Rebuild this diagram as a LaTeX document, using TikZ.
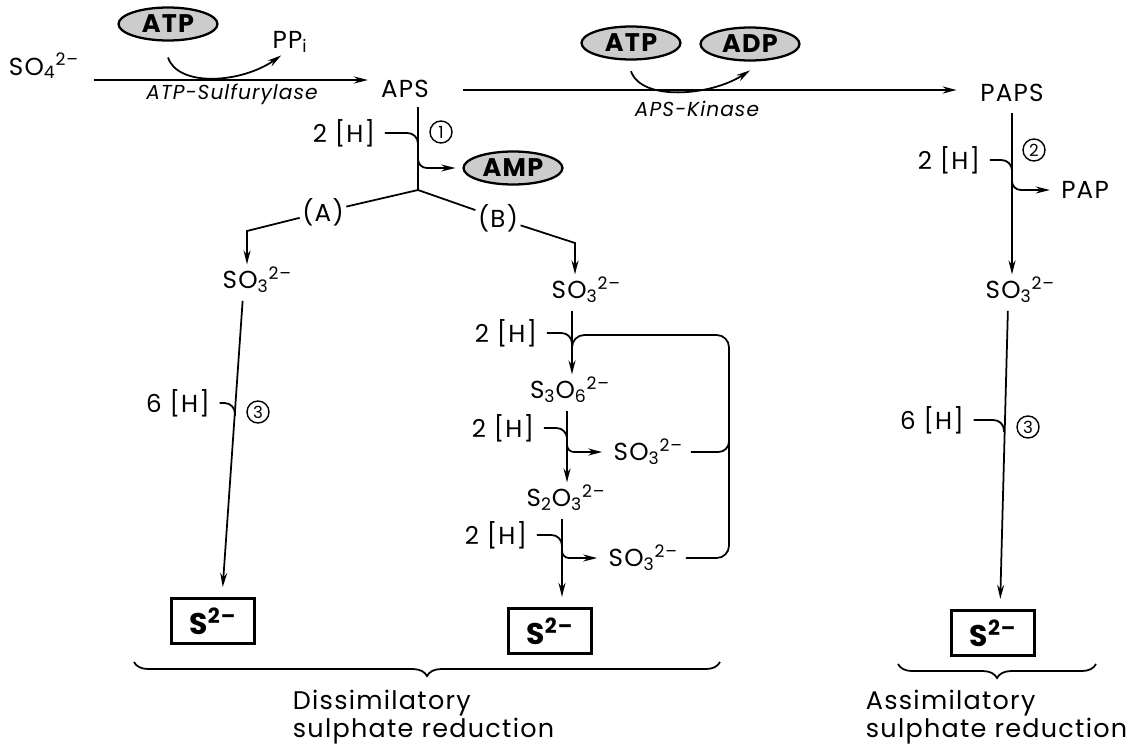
\documentclass[tikz,border=0pt]{standalone}
\usepackage{fontspec}
\setmainfont{Poppins}[LetterSpace=5]
\usetikzlibrary{arrows.meta,decorations.pathreplacing,shapes.geometric}

\tikzset{
	lbl/.style={font=\fontsize{14}{16}\selectfont, inner sep=1pt},
	enz/.style={font=\fontsize{11.5}{13}\selectfont\itshape, inner sep=1pt},
	big/.style={font=\fontsize{14.5}{14.5}\selectfont, inner sep=0pt},
	cofac/.style={ellipse, draw, line width=1.3pt, fill=gray!40, minimum width=1.98cm,
		minimum height=0.66cm, inner sep=0pt, font=\fontsize{14.5}{16}\selectfont\bfseries},
	sbox/.style={draw, line width=1.2pt, minimum width=1.66cm, minimum height=0.9cm,
		font=\fontsize{17}{18}\selectfont\bfseries},
	num/.style={circle, draw, line width=0.8pt, inner sep=0pt, minimum size=0.44cm,
		font=\fontsize{9.5}{10}\selectfont},
	arr/.style={-{Stealth[length=8pt,width=4pt]}}
}

\begin{document}
\begin{tikzpicture}[x=0.02cm, y=-0.02cm, line width=1pt]
	\useasboundingbox (0,0) rectangle (1142,747);

	% top row
	\node[lbl] (so4) at (44,66) {SO\textsubscript{4}\textsuperscript{2--}};
	\node[cofac] (atp1) at (168,24) {ATP};
	\node[lbl] (ppi) at (290,42) {PP\textsubscript{i}};
	\node[lbl] (aps) at (405,89) {APS};
	\node[enz] (sulf) at (232,94) {ATP-Sulfurylase};
	\node[cofac] (atp2) at (631,43) {ATP};
	\node[cofac] (adp) at (750,44) {ADP};
	\node[lbl] (paps) at (1012,93) {PAPS};
	\node[enz] (kin) at (697,109) {APS-Kinase};
	\coordinate (l1) at (0,80);
	\coordinate (l2) at (0,90);
	\draw[arr, shorten <=7pt, shorten >=6pt] (so4.east |- l1) -- (aps.west |- l1);
	\draw[arr] ([yshift=-9pt]atp1.south) .. controls +(10,30) and +(-40,28) .. ([xshift=-5pt]ppi.south);
	\draw[arr, shorten <=18pt, shorten >=12pt] (aps.east |- l2) -- (paps.west |- l2);
	\draw[arr] ([yshift=-6pt]atp2.south) .. controls +(10,30) and +(-40,26) .. ([yshift=-5pt]adp.south);

	% APS -> sulphite
	\coordinate (j) at (418,190);
	\draw[shorten <=4pt] (aps.south -| j) -- (j);
	\node[lbl] (h1) at (344,133) {2 [H]};
	\coordinate (m1) at (418,147);
	\draw[rounded corners=6pt, shorten <=4pt] (h1.east) -| (m1);
	\node[num] (n1) at (441,132) {1};
	\node[cofac] (amp) at (513,168) {AMP};
	\coordinate (o1) at (418,157);
	\draw[arr, rounded corners=5pt, shorten >=4pt] (o1) |- (amp.west);

	% branches (A) and (B)
	\node[lbl] (A) at (323,212) {(A)};
	\node[lbl] (B) at (498,218) {(B)};
	\coordinate (ca) at (247,231);
	\coordinate (cb) at (575,243);
	\node[lbl, anchor=west] (so3a) at (220,280) {SO\textsubscript{3}\textsuperscript{2--}};
	\node[lbl, anchor=west] (so3b) at (549,290) {SO\textsubscript{3}\textsuperscript{2--}};
	\draw (j) -- (A);
	\draw[arr] (A) -- (ca) -- (ca |- so3a.north);
	\draw (j) -- (B);
	\draw[arr] (B) -- (cb) -- (cb |- so3b.north);

	% (A) dissimilatory, direct
	\node[sbox] (s2a) at (213,621) {S\textsuperscript{2--}};
	\coordinate (a1) at (243,0);
	\coordinate (a2) at (222,0);
	\draw[arr, shorten <=3pt, shorten >=6pt] (so3a.south -| a1) -- (s2a.north -| a2);
	\node[lbl] (h5) at (178,403) {6 [H]};
	\coordinate (m5) at (235,416);
	\draw[rounded corners=6pt, shorten <=4pt] (h5.east) -| (m5);
	\node[num] (n3a) at (258,412) {3};

	% (B) dissimilatory, via trithionate and thiosulphate
	\node[lbl] (s3o6) at (570,390) {S\textsubscript{3}O\textsubscript{6}\textsuperscript{2--}};
	\node[lbl] (s2o3) at (566,498) {S\textsubscript{2}O\textsubscript{3}\textsuperscript{2--}};
	\node[sbox] (s2b) at (550,631) {S\textsuperscript{2--}};
	\node[lbl, anchor=west] (so3m) at (611,452) {SO\textsubscript{3}\textsuperscript{2--}};
	\node[lbl, anchor=west] (so3l) at (606,558) {SO\textsubscript{3}\textsuperscript{2--}};
	\coordinate (v1) at (572,0);
	\coordinate (v2) at (567,0);
	\coordinate (v3) at (562,0);
	\draw[arr, shorten <=3pt] (so3b.south -| v1) -- (s3o6.north -| v1);
	\draw[arr, shorten <=3pt] (s3o6.south -| v2) -- (s2o3.north -| v2);
	\draw[arr, shorten <=3pt, shorten >=6pt] (s2o3.south -| v3) -- (s2b.north -| v3);
	\node[lbl] (h2) at (506,333) {2 [H]};
	\node[lbl] (h3) at (503,428) {2 [H]};
	\node[lbl] (h4) at (496,535) {2 [H]};
	\coordinate (m2) at (572,348);
	\coordinate (m3) at (567,441);
	\coordinate (m4) at (562,548);
	\draw[rounded corners=6pt, shorten <=4pt] (h2.east) -| (m2);
	\draw[rounded corners=6pt, shorten <=4pt] (h3.east) -| (m3);
	\draw[rounded corners=6pt, shorten <=4pt] (h4.east) -| (m4);
	\coordinate (o3) at (567,440);
	\coordinate (o4) at (562,546);
	\draw[arr, rounded corners=4pt, shorten >=5pt] (o3) |- (so3m.west);
	\draw[arr, rounded corners=4pt, shorten >=5pt] (o4) |- (so3l.west);
	% sulphite recycled
	\coordinate (bt) at (729,335);
	\coordinate (bb) at (729,558);
	\coordinate (bm) at (729,440);
	\draw[rounded corners=7pt] (m2) |- (bt) -- (bb) -- ([xshift=3pt]so3l.east);
	\draw[rounded corners=6pt, shorten <=3pt] (so3m.east) -| (bm);

	% assimilatory
	\node[lbl] (h6) at (949,160) {2 [H]};
	\node[num] (n2) at (1034,150) {2};
	\node[lbl] (pap) at (1085,190) {PAP};
	\node[lbl, anchor=west] (so3r) at (983,290) {SO\textsubscript{3}\textsuperscript{2--}};
	\node[sbox] (s2r) at (993,633) {S\textsuperscript{2--}};
	\coordinate (r0) at (1012,0);
	\coordinate (r1) at (1008,0);
	\coordinate (r2) at (1000,0);
	\draw[arr, shorten <=5pt] (paps.south -| r0) -- (so3r.north -| r0);
	\coordinate (m6) at (1012,172);
	\draw[rounded corners=6pt, shorten <=4pt] (h6.east) -| (m6);
	\coordinate (o6) at (1012,178);
	\draw[arr, rounded corners=5pt, shorten >=5pt] (o6) |- (pap.west);
	\draw[arr, shorten <=3pt, shorten >=6pt] (so3r.south -| r1) -- (s2r.north -| r2);
	\node[lbl] (h7) at (932,420) {6 [H]};
	\coordinate (m7) at (1004,432);
	\draw[rounded corners=6pt, shorten <=4pt] (h7.east) -| (m7);
	\node[num] (n3b) at (1028,427) {3};

	% braces
	\draw[decorate, decoration={brace, mirror, amplitude=8pt}] (134,662) -- (720,662);
	\draw[decorate, decoration={brace, mirror, amplitude=8pt}] (898,664) -- (1096,664);
	\node[big, anchor=south west, align=left] (dis) at (292,745) {Dissimilatory\\sulphate reduction};
	\node[big, anchor=south west, align=left] (ass) at (865,745) {Assimilatory\\sulphate reduction};
\end{tikzpicture}
\end{document}
